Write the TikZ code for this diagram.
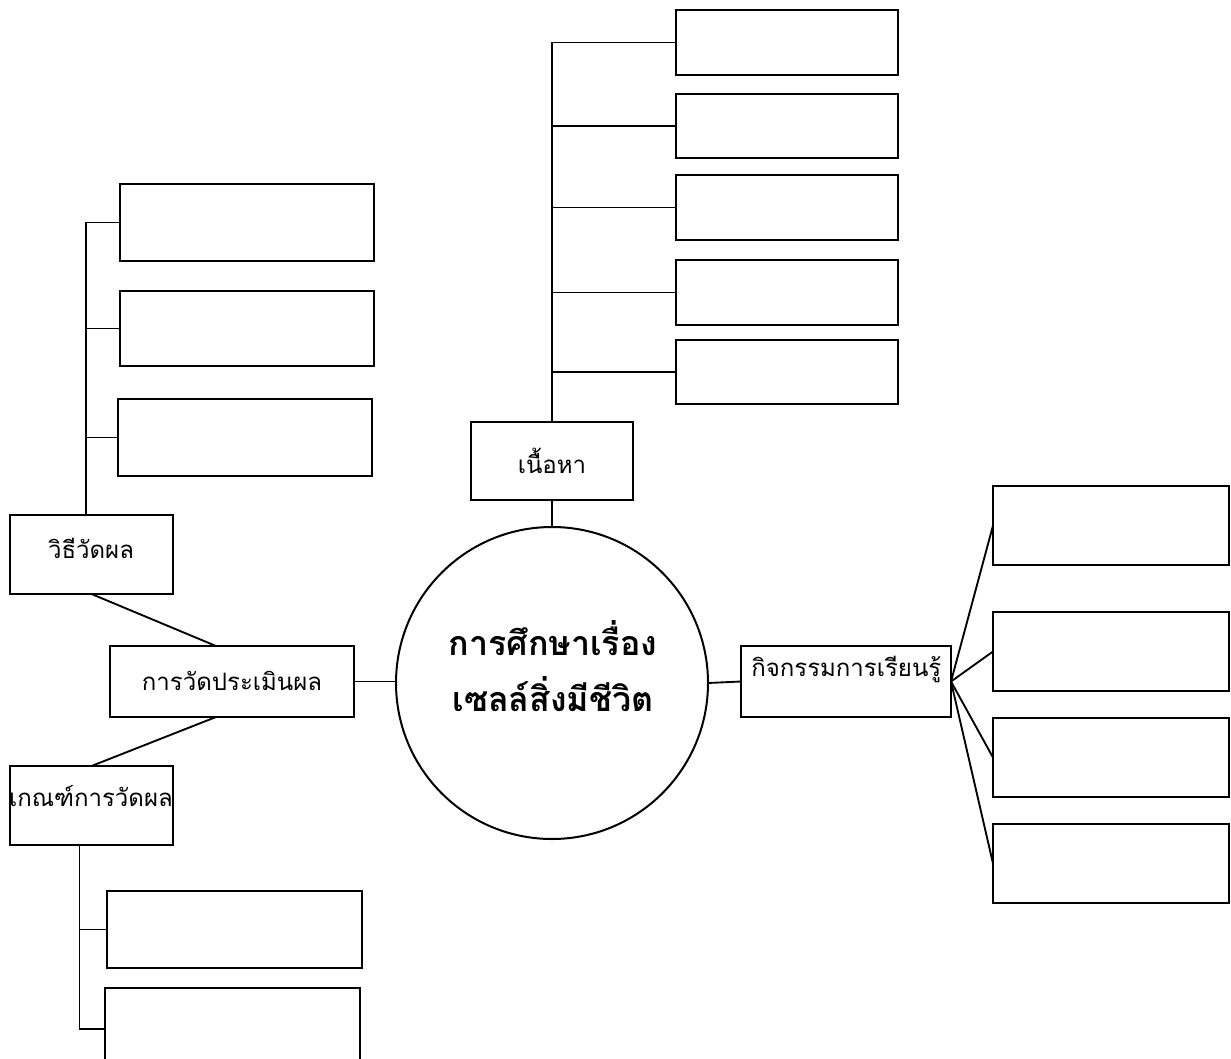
\documentclass[tikz,border=0pt]{standalone}
\usepackage{fontspec}
\newfontfamily\thai[Script=Thai]{Loma}
\usetikzlibrary{positioning,calc}
\tikzset{
  box/.style={draw,rectangle,line width=1.5pt,inner sep=0pt,outer sep=0pt},
  conn/.style={line width=1.4pt},
  lbl/.style={inner sep=0pt,font=\thai\fontsize{18}{21}\selectfont},
  title/.style={inner sep=0pt,font=\thai\bfseries\fontsize{25.5}{30}\selectfont},
}
\newcommand\bx[5]{\node[box,minimum width={(#4-#2)*0.75pt},minimum height={(#5-#3)*0.75pt}] (#1) at ({(#2+#4)/2},{(#3+#5)/2}) {};}
\begin{document}
\begin{tikzpicture}[x=0.75pt,y=-0.75pt]
\useasboundingbox (0,0) rectangle (1231,1059);
\clip (0,0) rectangle (1231,1059);
\fill[white] (0,0) rectangle (1231,1059);
% centre
\node[draw,circle,line width=1.5pt,minimum size=312*0.75pt,inner sep=0pt,outer sep=0pt] (center) at (552,683) {};
\node[title] (t1) at (553,638) {การศึกษาเรื่อง};
\node[title] (t2) at (553,694) {เซลล์สิ่งมีชีวิต};
% content branch
\bx{content}{471}{422}{633}{500}
\node[lbl] (tcontent) at (552,461) {เนื้อหา};
\bx{B1}{676}{10}{898}{75}
\bx{B2}{676}{94}{898}{158}
\bx{B3}{676}{175}{898}{240}
\bx{B4}{676}{260}{898}{325}
\bx{B5}{676}{340}{898}{404}
\draw[conn] (content.south) -- (center.north);
\draw[conn] (content.north) |- (B1.west);
\foreach \b in {B2,B3,B4,B5} \draw[conn] (content.north |- \b.west) -- (\b.west);
% measurement branch
\bx{meas}{110}{646}{354}{717}
\node[lbl] (tmeas) at (232,681) {การวัดประเมินผล};
\draw[conn] (meas.east) -- (meas.east -| center.west);
\bx{method}{10}{515}{173}{594}
\node[lbl] (tmethod) at (91,548) {วิธีวัดผล};
\bx{crit}{10}{766}{173}{845}
\node[lbl] (tcrit) at (91,796) {เกณฑ์การวัดผล};
\draw[conn] (method.south) -- ([xshift=-12pt]meas.north);
\draw[conn] (crit.north) -- ([xshift=-12pt]meas.south);
\bx{L1}{120}{184}{374}{261}
\bx{L2}{120}{291}{374}{366}
\bx{L3}{118}{399}{372}{476}
\draw[conn] ([xshift=-4pt]method.north) |- (L1.west);
\draw[conn] ([xshift=-4pt]method.north |- L2.west) -- (L2.west);
\draw[conn] ([xshift=-4pt]method.north |- L3.west) -- (L3.west);
\bx{D1}{107}{891}{362}{968}
\bx{D2}{105}{988}{360}{1070}
\draw[conn] ([xshift=-9pt]crit.south) |- (D2.west);
\draw[conn] ([xshift=-9pt]crit.south |- D1.west) -- (D1.west);
% activity branch
\bx{act}{741}{646}{951}{717}
\node[lbl,anchor=west] (tact) at (751,669) {กิจกรรมการเรียนรู้};
\draw[conn] (center.east) -- (act.west);
\bx{R1}{993}{486}{1229}{565}
\bx{R2}{993}{612}{1229}{691}
\bx{R3}{993}{718}{1229}{797}
\bx{R4}{993}{824}{1229}{903}
\foreach \r in {R1,R2,R3,R4} \draw[conn] (act.east) -- (\r.west);
\end{tikzpicture}
\end{document}
